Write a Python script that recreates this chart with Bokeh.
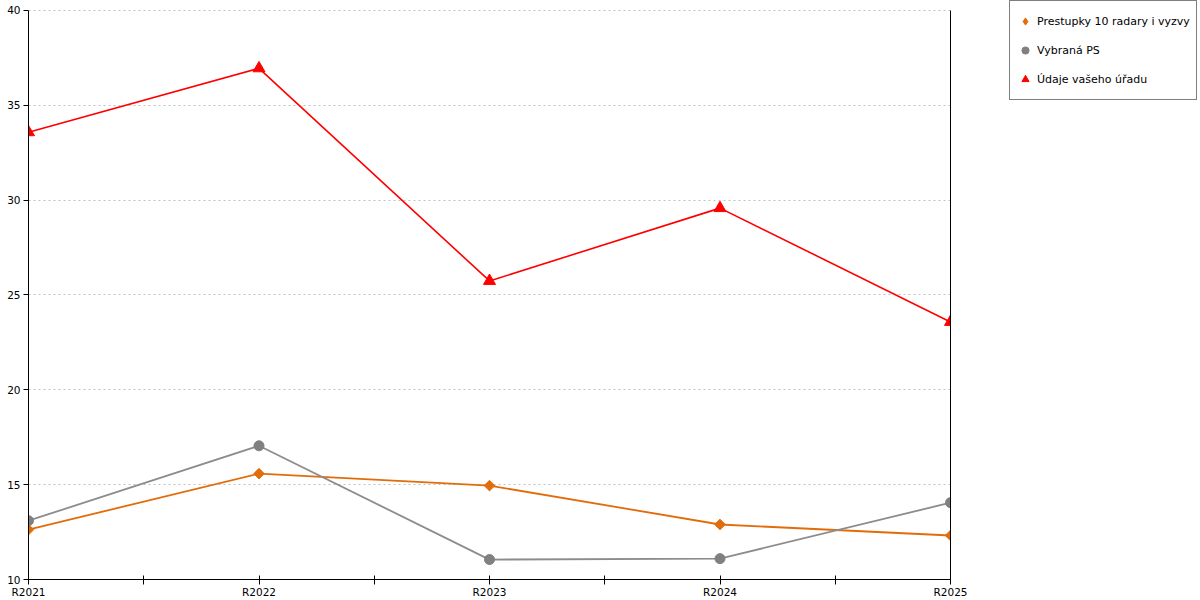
import math
from bokeh.plotting import figure
from bokeh.layouts import row
from bokeh.models import FixedTicker, Legend, LegendItem, Range1d, LinearAxis
from bokeh.embed import file_html
from bokeh.resources import INLINE

years = ["R2021", "R2022", "R2023", "R2024", "R2025"]
prestupky = [12.63, 15.58, 14.95, 12.9, 12.32]
vybrana_ps = [13.1, 17.05, 11.05, 11.1, 14.05]
udaje_uradu = [33.58, 36.95, 25.74, 29.58, 23.58]
y_ticks = [10, 15, 20, 25, 30, 35, 40]

names = ["Prestupky 10 radary i vyzvy", "Vybraná PS", "Údaje vašeho úřadu"]
FONT = "DejaVu Sans"
FS = "10.5px"
ORANGE, GREY, RED = "#E36C0A", "#808080", "#FF0000"

xs = list(range(len(years)))
y0, y1 = y_ticks[0], y_ticks[-1]
top_pad = (y1 - y0) * 10 / 570  # 10px of headroom above the top tick

p = figure(width=1009, height=600, output_backend="svg", toolbar_location=None,
           x_range=Range1d(xs[0], xs[-1]), y_range=Range1d(y0, y1 + top_pad),
           min_border_left=28, min_border_top=0, min_border_bottom=20, min_border_right=59)
p.outline_line_color = None
p.background_fill_color = "white"
p.border_fill_color = "white"

# axes
xa = p.xaxis[0]
xa.ticker = FixedTicker(ticks=xs, minor_ticks=[i + 0.5 for i in xs[:-1]])
xa.major_label_overrides = {i: years[i] for i in xs}
xa.major_tick_in = 4
xa.major_tick_out = 5
xa.minor_tick_in = 4
xa.minor_tick_out = 5
xa.minor_tick_line_color = "black"
xa.major_label_standoff = 1
ya = p.yaxis[0]
ya.ticker = FixedTicker(ticks=y_ticks)
ya.bounds = (y0, y1)
ya.major_tick_in = 0
ya.major_tick_out = 5
ya.minor_tick_line_color = None
ya.major_label_standoff = 3
for ax in (xa, ya):
    ax.axis_line_color = "black"
    ax.major_tick_line_color = "black"
    ax.major_label_text_font = FONT
    ax.major_label_text_font_size = FS
    ax.major_label_text_color = "black"

# plain right-hand border line
ra = LinearAxis(bounds=(y0, y1), ticker=FixedTicker(ticks=[]),
                axis_line_color="black", major_tick_line_color=None,
                minor_tick_line_color=None, major_label_text_font_size="0px",
                major_label_standoff=0)
p.add_layout(ra, "right")

p.xgrid.grid_line_color = None
p.ygrid.grid_line_color = "#c0c0c0"
p.ygrid.grid_line_dash = "2 3"
p.ygrid.grid_line_width = 1

# series
p.line(xs, prestupky, line_color=ORANGE, line_width=1.8)
p.scatter(xs, prestupky, marker="square", angle=math.pi / 4, size=7.5,
          fill_color=ORANGE, line_color=ORANGE)
p.line(xs, vybrana_ps, line_color="#8C8C8C", line_width=1.8)
p.scatter(xs, vybrana_ps, marker="circle", size=10, fill_color=GREY, line_color=GREY)
p.line(xs, udaje_uradu, line_color=RED, line_width=1.6)
p.scatter(xs, udaje_uradu, marker="triangle", size=12, fill_color=RED, line_color=RED)

# legend panel to the right of the plot (its swatch renderers lie outside its visible ranges)
lp = figure(width=191, height=600, output_backend="svg", toolbar_location=None,
            x_axis_location=None, y_axis_location=None,
            x_range=Range1d(-20, -10), y_range=Range1d(-20, -10),
            min_border_left=0, min_border_right=0, min_border_top=0, min_border_bottom=0)
lp.outline_line_color = None
lp.grid.visible = False
lp.background_fill_color = "white"
lp.border_fill_color = "white"
r1 = lp.scatter(xs, prestupky, marker="diamond", fill_color=ORANGE, line_color=ORANGE)
r2 = lp.scatter(xs, vybrana_ps, marker="circle", fill_color=GREY, line_color=GREY)
r3 = lp.scatter(xs, udaje_uradu, marker="triangle", fill_color=RED, line_color=RED)

legend = Legend(items=[LegendItem(label=names[0], renderers=[r1]),
                       LegendItem(label=names[1], renderers=[r2]),
                       LegendItem(label=names[2], renderers=[r3])],
                location="top_left")
legend.border_line_color = "black"
legend.border_line_width = 1
legend.background_fill_color = "white"
legend.background_fill_alpha = 1
legend.label_text_font = FONT
legend.label_text_font_size = "11px"
legend.label_text_color = "black"
legend.glyph_width = 18
legend.glyph_height = 28
legend.label_height = 28
legend.label_standoff = 3
legend.spacing = 1
legend.padding = 6
legend.margin = 0
lp.add_layout(legend, "center")

layout = row(p, lp, spacing=0)
open("out.html", "w").write(file_html(layout, INLINE))
